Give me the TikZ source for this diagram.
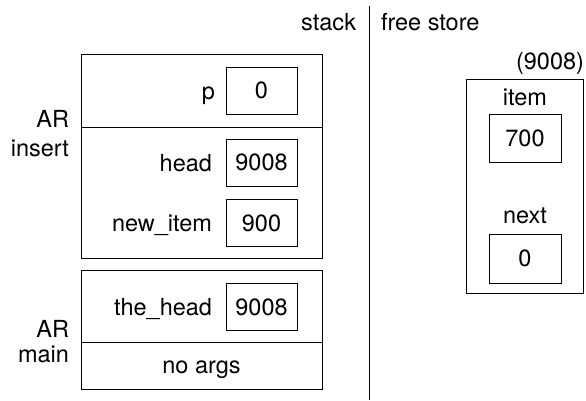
\documentclass[tikz,border=0pt]{standalone}
\usepackage{fontspec}
\setmainfont{TeX Gyre Heros}
\begin{document}
\begin{tikzpicture}[x=1pt,y=-1pt,
  every node/.style={font=\fontsize{23.5}{28}\selectfont, inner sep=0pt, outer sep=0pt},
  line/.style={line width=1pt, draw=black},
  frame/.style={draw=black, line width=1pt, rectangle},
  valbox/.style={draw=black, line width=1pt, rectangle, minimum width=71pt, minimum height=47pt},
  lbl/.style={anchor=base east},
]
\useasboundingbox (0,0) rectangle (586,400);
% headings
\node[anchor=base east] (stack) at (356,30) {stack};
\node[anchor=base west] (free) at (381,30) {free store};
\coordinate (vtop) at (369,6);
\coordinate (vbot) at (369,400);
\draw[line] (vtop) -- (vbot);

% AR insert
\node[frame, minimum width=241pt, minimum height=204pt] (ins) at (201.5,156) {};
\coordinate (insdl) at (81,127);
\coordinate (insdr) at (322,127);
\draw[line] (insdl) -- (insdr);
\node[lbl] (arins) at (69,127) {AR};
\node[lbl] (insert) at (69,156) {insert};
\node[valbox] (pval) at (261.5,90.5) {0};
\node[lbl] (plbl) at (215,99) {p};
\node[valbox] (headval) at (261.5,162.5) {9008};
\node[lbl] (headlbl) at (212,171) {head};
\node[valbox] (newval) at (261.5,223) {900};
\node[lbl] (newlbl) at (212,231) {new\_item};

% AR main
\node[frame, minimum width=241pt, minimum height=119pt] (mainf) at (201.5,329.5) {};
\coordinate (maindl) at (81,342);
\coordinate (maindr) at (322,342);
\draw[line] (maindl) -- (maindr);
\node[lbl] (armain) at (69,337) {AR};
\node[lbl] (mainlbl) at (69,362) {main};
\node[valbox] (theval) at (261.5,307) {9008};
\node[lbl] (thelbl) at (212,315) {the\_head};
\node[anchor=base] (noargs) at (201.5,373) {no args};

% free store
\node[anchor=base east] (addr) at (584,69) {(9008)};
\node[frame, minimum width=117pt, minimum height=214pt] (obj) at (524.5,186) {};
\node[anchor=base] (itemlbl) at (525,105) {item};
\node[valbox, minimum width=72pt, minimum height=48pt] (itemval) at (525,138) {700};
\node[anchor=base] (nextlbl) at (525,223) {next};
\node[valbox, minimum width=72pt, minimum height=49pt] (nextval) at (525,258.5) {0};
\end{tikzpicture}
\end{document}
